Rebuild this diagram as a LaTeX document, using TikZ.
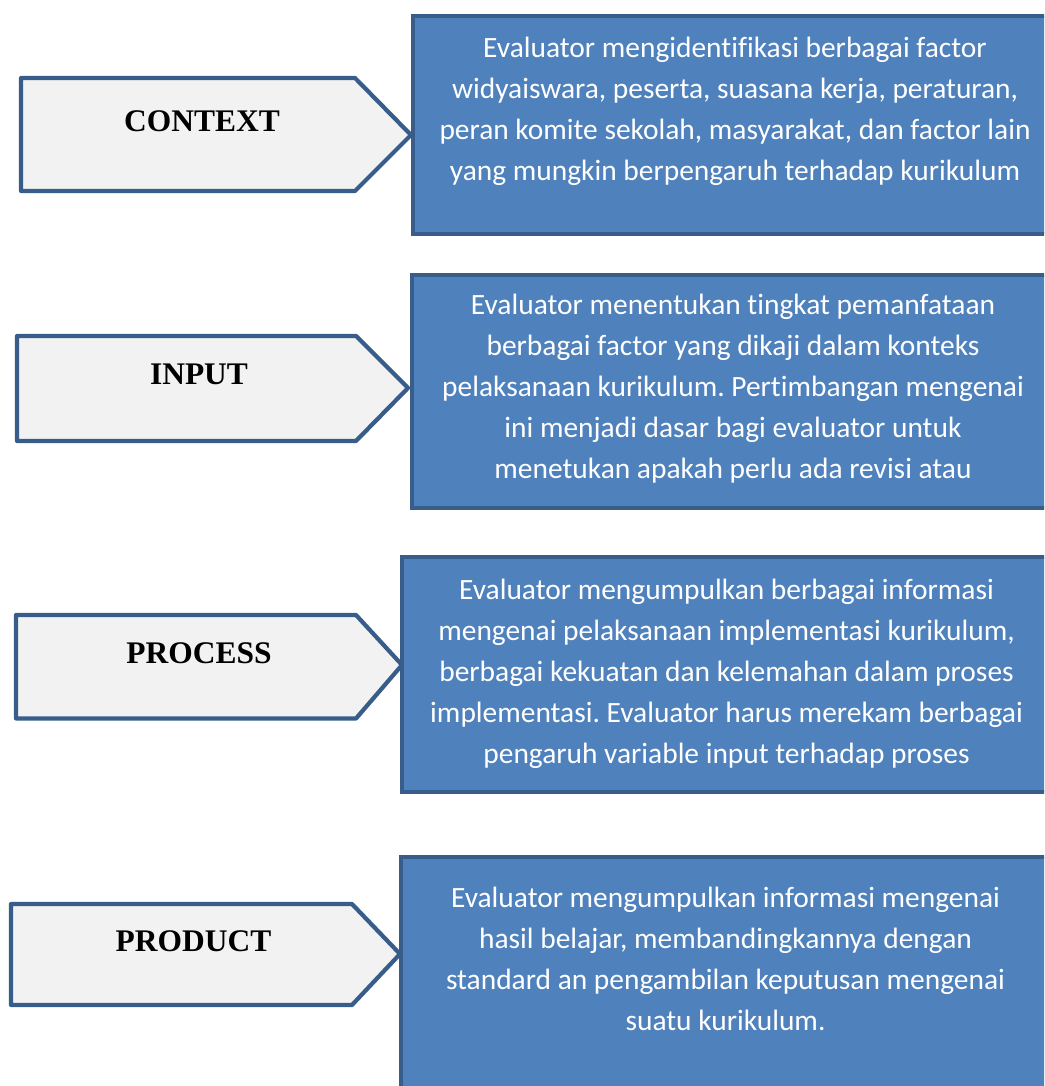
\documentclass[tikz,border=0pt]{standalone}
\usepackage{fontspec}
\setmainfont{Liberation Serif}
\newfontfamily\panelfont[Ligatures={NoCommon,NoContextual}]{Carlito}
\definecolor{cipblue}{RGB}{79,129,189}
\definecolor{cipedge}{RGB}{56,93,138}
\definecolor{cipgray}{RGB}{242,242,242}
\frenchspacing

\begin{document}
\begin{tikzpicture}[
  stage/.style={draw=cipedge, fill=cipgray, line width=2.4pt, line join=round},
  panel/.style={draw=cipedge, fill=cipblue, line width=2.4pt},
  stagelabel/.style={font=\fontsize{17.9}{20}\selectfont\bfseries},
  paneltext/.style={font=\panelfont\fontsize{16.75}{23.4}\selectfont, text=white, align=center, inner sep=0pt, anchor=north}]
  \path[use as bounding box, clip] (0,0) rectangle (20.88,21.72);
  % context
  \draw[stage] (0.42,20.16) -- (7.10,20.16) -- (8.22,19.02) -- (7.10,17.90) -- (0.42,17.90) -- cycle;
  \node[stagelabel] (context) at (4.04,19.30) {CONTEXT};
  \draw[panel] (8.26,21.40) rectangle (21.14,17.04);
  \node[paneltext] (contextinfo) at (14.70,20.99) {Evaluator mengidentifikasi berbagai factor\\
    widyaiswara, peserta, suasana kerja, peraturan,\\
    peran komite sekolah, masyarakat, dan factor lain\\
    yang mungkin berpengaruh terhadap kurikulum};
  % input
  \draw[stage] (0.34,15.00) -- (7.12,15.00) -- (8.16,13.96) -- (7.12,12.90) -- (0.34,12.90) -- cycle;
  \node[stagelabel] (input) at (3.98,14.23) {INPUT};
  \draw[panel] (8.24,16.22) rectangle (21.08,11.56);
  \node[paneltext] (inputinfo) at (14.66,15.85) {Evaluator menentukan tingkat pemanfataan\\
    berbagai factor yang dikaji dalam konteks\\
    pelaksanaan kurikulum. Pertimbangan mengenai\\
    ini menjadi dasar bagi evaluator untuk\\
    menetukan apakah perlu ada revisi atau};
  % process
  \draw[stage] (0.32,9.42) -- (7.12,9.42) -- (8.04,8.42) -- (7.12,7.35) -- (0.32,7.35) -- cycle;
  \node[stagelabel] (process) at (3.98,8.66) {PROCESS};
  \draw[panel] (8.04,10.58) rectangle (21.02,5.88);
  \node[paneltext] (processinfo) at (14.53,10.15) {Evaluator mengumpulkan berbagai informasi\\
    mengenai pelaksanaan implementasi kurikulum,\\
    berbagai kekuatan dan kelemahan dalam proses\\
    implementasi. Evaluator harus merekam berbagai\\
    pengaruh variable input terhadap proses};
  % product
  \draw[stage] (0.22,3.64) -- (7.04,3.64) -- (8.00,2.64) -- (7.04,1.62) -- (0.22,1.62) -- cycle;
  \node[stagelabel] (product) at (3.87,2.90) {PRODUCT};
  \draw[panel] (8.02,4.58) rectangle (21.00,-1.00);
  \node[paneltext] (productinfo) at (14.51,3.99) {Evaluator mengumpulkan informasi mengenai\\
    hasil belajar, membandingkannya dengan\\
    standard an pengambilan keputusan mengenai\\
    suatu kurikulum.};
\end{tikzpicture}
\end{document}
